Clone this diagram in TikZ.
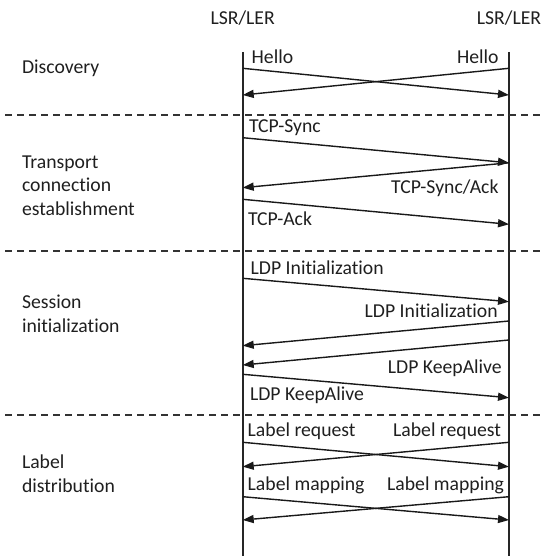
\documentclass[tikz,border=0pt]{standalone}
\usepackage{fontspec}
\setmainfont{Carlito}[Ligatures=NoCommon]
\usetikzlibrary{arrows.meta}
\begin{document}
\begin{tikzpicture}[x=1pt,y=-1pt,
  txt/.style={inner sep=0pt,outer sep=0pt,font=\fontsize{19.7}{23.5}\selectfont,text=black!88},
  phase/.style={txt,align=left,anchor=base west},
  lmsg/.style={txt,anchor=base west},
  rmsg/.style={txt,anchor=base east},
  life/.style={line width=1.8pt,draw=black!85},
  msg/.style={line width=1.4pt,draw=black!90,-{Triangle[length=11pt,width=8pt]}},
  sep/.style={line width=1.4pt,draw=black!80,dash pattern=on 7pt off 5pt}]
\useasboundingbox (0,0) rectangle (541,556);

% end points
\node[txt,anchor=base] (hl) at (242.7,25) {LSR/LER};
\node[txt,anchor=base] (hr) at (509,25) {LSR/LER};

% lifelines
\coordinate (LT) at (242.7,52);
\coordinate (LB) at (242.7,556);
\coordinate (RT) at (509,52);
\coordinate (RB) at (509,556);
\draw[life] (LT) -- (LB);
\draw[life] (RT) -- (RB);

% phase separators
\foreach \y/\n in {115/s1,251/s2,415/s3}{
  \coordinate (\n a) at (5,\y);
  \coordinate (\n b) at (541,\y);
  \draw[sep] (\n a) -- (\n b);
}

% phase names (anchored at the baseline of their last line)
\node[phase] (p1) at (22,74) {Discovery};
\node[phase] (p2) at (22,215) {Transport\\connection\\establishment};
\node[phase] (p3) at (22,332) {Session\\initialization};
\node[phase] (p4) at (22,492) {Label\\distribution};

% message end points on the lifelines
\foreach \n/\y in {a/68.3,b/95,c/137.7,d/162.8,e/187.7,f/199.3,g/224.3,
                   h/278.3,i/301.7,j/321,k/345.7,l/340,m/365,n/374.3,o/397.7,
                   p/442.3,q/466.7,r/496.7,s/520}{
  \coordinate (L\n) at (242.7,\y);
  \coordinate (R\n) at (509,\y);
}

% discovery
\node[lmsg] (m1) at (251.7,63.3) {Hello};
\node[rmsg] (m2) at (498.5,63.3) {Hello};
\draw[msg] (La) -- (Rb);
\draw[msg] (Ra) -- (Lb);

% transport connection
\node[lmsg] (m3) at (249,133) {TCP-Sync};
\draw[msg] (Lc) -- (Rd);
\draw[msg] (Rd) -- (Le);
\node[rmsg] (m4) at (498.5,193) {TCP-Sync/Ack};
\draw[msg] (Lf) -- (Rg);
\node[lmsg] (m5) at (248,225) {TCP-Ack};

% session initialization
\node[lmsg] (m6) at (250.7,274) {LDP Initialization};
\draw[msg] (Lh) -- (Ri);
\node[rmsg] (m7) at (497.7,317) {LDP Initialization};
\draw[msg] (Rj) -- (Lk);
\draw[msg] (Rl) -- (Lm);
\node[rmsg] (m8) at (501.7,373) {LDP KeepAlive};
\draw[msg] (Ln) -- (Ro);
\node[lmsg] (m9) at (250,400) {LDP KeepAlive};

% label distribution
\node[lmsg] (m10) at (247.7,436.7) {Label request};
\node[rmsg] (m11) at (501,436.7) {Label request};
\draw[msg] (Lp) -- (Rq);
\draw[msg] (Rp) -- (Lq);
\node[lmsg] (m12) at (247.7,490) {Label mapping};
\node[rmsg] (m13) at (504,490) {Label mapping};
\draw[msg] (Lr) -- (Rs);
\draw[msg] (Rr) -- (Ls);
\end{tikzpicture}
\end{document}
